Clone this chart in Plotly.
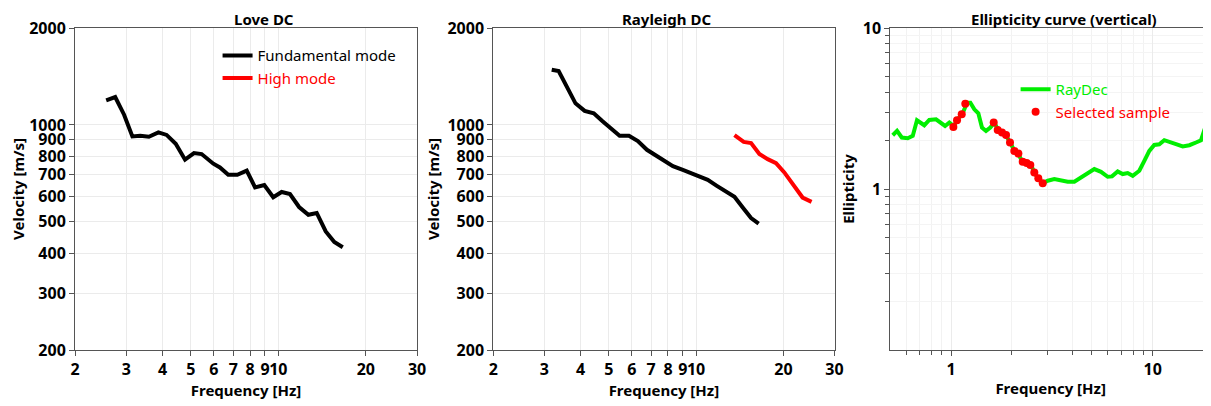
import plotly.graph_objects as go
import numpy as np

# ---------------- data ----------------
love_f = [2.56, 2.75, 2.95, 3.15, 3.35, 3.59, 3.87, 4.13, 4.44, 4.78, 5.13, 5.45, 5.98, 6.30,
          6.73, 7.23, 7.79, 8.32, 8.95, 9.61, 10.27, 10.97, 11.79, 12.69, 13.56, 14.56, 15.58, 16.66]
love_v = [1192, 1221, 1076, 921, 926, 919, 948, 931, 874, 780, 818, 812, 758, 738,
          700, 700, 721, 640, 651, 596, 619, 610, 556, 526, 533, 467, 433, 417]

ray_f = [3.18, 3.36, 3.58, 3.84, 4.13, 4.44, 4.76, 5.11, 5.45, 5.87, 6.30, 6.77, 7.29,
         7.79, 8.32, 9.00, 9.62, 10.27, 10.97, 11.79, 12.69, 13.56, 14.48, 15.47, 16.43]
ray_v = [1484, 1470, 1318, 1167, 1106, 1086, 1026, 971, 925, 925, 891, 837, 802,
         776, 745, 725, 709, 692, 675, 647, 623, 598, 554, 514, 494]

ray_hi_f = [13.56, 14.11, 14.59, 15.47, 16.52, 17.65, 18.86, 20.14, 21.51, 23.28, 25.0]
ray_hi_v = [930, 904, 886, 878, 812, 783, 761, 712, 655, 595, 577]

ell_f = [0.514, 0.540, 0.570, 0.610, 0.646, 0.678, 0.737, 0.780, 0.843, 0.885, 0.934, 0.981,
         1.031, 1.080, 1.143, 1.200, 1.247, 1.305, 1.366, 1.424, 1.491, 1.566, 1.640, 1.704,
         1.784, 1.874, 1.968, 2.060, 2.157, 2.267, 2.400, 2.492, 2.588, 2.709, 2.849, 3.016,
         3.252, 3.511, 3.789, 4.087, 4.411, 4.762, 5.134, 5.542, 5.982, 6.284, 6.706, 7.100,
         7.516, 7.958, 8.584, 9.087, 9.619, 10.18, 10.78, 11.41, 12.09, 13.05, 14.08, 15.19,
         16.39, 17.36, 18.02, 19.08, 19.84]
ell_v = [2.158, 2.294, 2.088, 2.067, 2.136, 2.671, 2.488, 2.683, 2.710, 2.608, 2.463, 2.585,
         2.463, 2.710, 2.951, 3.437, 3.437, 3.124, 2.951, 2.407, 2.294, 2.407, 2.585, 2.350,
         2.261, 2.136, 1.945, 1.725, 1.646, 1.463, 1.428, 1.407, 1.268, 1.153, 1.089, 1.126,
         1.153, 1.126, 1.110, 1.110, 1.181, 1.250, 1.329, 1.279, 1.191, 1.198, 1.286, 1.238,
         1.256, 1.208, 1.298, 1.496, 1.725, 1.879, 1.897, 2.009, 1.972, 1.897, 1.837, 1.871,
         1.945, 2.009, 2.317, 2.327, 2.374]

sel_f = [1.027, 1.071, 1.130, 1.177, 1.628, 1.704, 1.790, 1.874, 1.961, 2.060, 2.157,
         2.267, 2.373, 2.473, 2.588, 2.709, 2.849]
sel_v = [2.428, 2.671, 2.910, 3.388, 2.585, 2.327, 2.242, 2.167, 1.945, 1.725, 1.663,
         1.475, 1.448, 1.407, 1.268, 1.165, 1.085]

dc_xticks = [2, 3, 4, 5, 6, 7, 8, 9, 10, 20, 30]
dc_yticks = [200, 300, 400, 500, 600, 700, 800, 900, 1000, 2000]
ell_xticks = [1, 10]
ell_yticks = [1, 10]

# ---------------- figure ----------------
FONT = "Noto Sans"
fig = go.Figure()

fig.add_trace(go.Scatter(x=love_f, y=love_v, mode="lines", name="Fundamental mode",
                         line=dict(color="black", width=4), xaxis="x", yaxis="y",
                         legend="legend"))
fig.add_trace(go.Scatter(x=[None], y=[None], mode="lines",
                         name="<span style='color:red'>High mode</span>",
                         line=dict(color="red", width=4), xaxis="x", yaxis="y",
                         legend="legend"))

fig.add_trace(go.Scatter(x=ray_f, y=ray_v, mode="lines", showlegend=False,
                         line=dict(color="black", width=4), xaxis="x2", yaxis="y2"))
fig.add_trace(go.Scatter(x=ray_hi_f, y=ray_hi_v, mode="lines", showlegend=False,
                         line=dict(color="red", width=4), xaxis="x2", yaxis="y2"))

fig.add_trace(go.Scatter(x=ell_f, y=ell_v, mode="lines",
                         name="<span style='color:#00ee00'>RayDec</span>",
                         line=dict(color="#00ee00", width=4), xaxis="x3", yaxis="y3",
                         legend="legend3"))
fig.add_trace(go.Scatter(x=sel_f, y=sel_v, mode="markers",
                         name="<span style='color:red'>Selected sample</span>",
                         marker=dict(color="red", size=8), xaxis="x3", yaxis="y3",
                         legend="legend3"))

tickfont = dict(family=FONT, size=16, color="black", weight="bold")
titlefont = dict(family=FONT, size=15, color="black", weight="bold")
grid = "#ebebeb"
axline = "#555555"

def xax(domain, rng, tv, anchor):
    return dict(type="log", domain=domain, range=rng, tickvals=tv,
                ticktext=[str(t) for t in tv], tickfont=tickfont, tickangle=0,
                title=dict(text="Frequency [Hz]", font=titlefont, standoff=4),
                showline=True, linecolor=axline, linewidth=1, mirror=True,
                ticks="outside", ticklen=5, tickcolor=axline, automargin=False,
                showgrid=True, gridcolor=grid, zeroline=False, anchor=anchor)

def yax(rng, tv, title, anchor):
    return dict(type="log", domain=[0, 1], range=rng, tickvals=tv,
                ticktext=[str(t) for t in tv], tickfont=tickfont,
                title=dict(text=title, font=titlefont, standoff=4),
                showline=True, linecolor=axline, linewidth=1, mirror=True,
                ticks="outside", ticklen=5, tickcolor=axline, automargin=False,
                showgrid=True, gridcolor=grid, zeroline=False, anchor=anchor)

dc_yr = [np.log10(200), np.log10(2000)]
dc_xr = [np.log10(2), np.log10(30)]

x3 = xax([0.7177, 1.0], [np.log10(0.5), 1.289], ell_xticks, "y3")
x3["minor"] = dict(tickvals=[0.6, 0.7, 0.8, 0.9, 2, 3, 4, 5, 6, 7, 8, 9, 20],
                   ticks="outside", ticklen=4, tickcolor=axline,
                   showgrid=True, gridcolor="#f2f2f2")
y3 = yax([-1, 1], ell_yticks, "Ellipticity", "x3")
y3["minor"] = dict(tickvals=[0.2, 0.3, 0.4, 0.5, 0.6, 0.7, 0.8, 0.9, 2, 3, 4, 5, 6, 7, 8, 9],
                   ticks="outside", ticklen=4, tickcolor=axline,
                   showgrid=True, gridcolor="#f4f4f4")

TITLE_Y = 1 + 20 / 322  # top edge of the figure

# the page body has an 8px margin, so the figure is 8px smaller and offset
fig.update_layout(
    width=1203, height=398,
    margin=dict(l=67, r=0, t=20, b=56),
    paper_bgcolor="white", plot_bgcolor="white",
    font=dict(family=FONT, size=15, color="black"),
    xaxis=xax([0.0, 0.3011], dc_xr, dc_xticks, "y"),
    yaxis=yax(dc_yr, dc_yticks, "Velocity [m/s]", "x"),
    xaxis2=xax([0.3682, 0.6686], dc_xr, dc_xticks, "y2"),
    yaxis2=yax(dc_yr, dc_yticks, "Velocity [m/s]", "x2"),
    xaxis3=x3, yaxis3=y3,
    legend=dict(x=0.1255, y=0.965, xanchor="left", yanchor="top",
                bgcolor="rgba(0,0,0,0)", font=dict(family=FONT, size=15, color="black"),
                tracegroupgap=0, itemwidth=30),
    legend3=dict(x=0.828, y=0.86, xanchor="left", yanchor="top",
                 bgcolor="rgba(0,0,0,0)", font=dict(family=FONT, size=15, color="black"),
                 tracegroupgap=0, itemwidth=30),
    showlegend=True,
    annotations=[
        dict(text="Love DC", x=0.1664, y=TITLE_Y, xref="paper", yref="paper",
             showarrow=False, font=titlefont, xanchor="center", yanchor="top", borderpad=0),
        dict(text="Rayleigh DC", x=0.5211, y=TITLE_Y, xref="paper", yref="paper",
             showarrow=False, font=titlefont, xanchor="center", yanchor="top", borderpad=0),
        dict(text="Ellipticity curve (vertical)", x=0.8706, y=TITLE_Y, xref="paper",
             yref="paper", showarrow=False, font=titlefont, xanchor="center",
             yanchor="top", borderpad=0),
    ],
)

fig.write_html("out.html")
